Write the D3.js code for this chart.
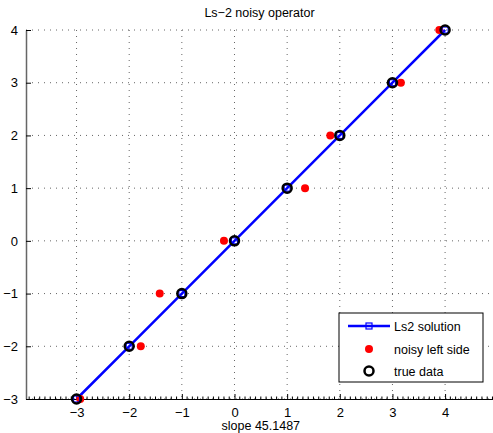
<!DOCTYPE html>
<html>
<head>
<meta charset="utf-8">
<script src="https://cdn.jsdelivr.net/npm/d3@7"></script>
<style>
  body { margin: 0; background: #fff; }
  text { font-family: "Liberation Sans", Arial, sans-serif; }
</style>
</head>
<body>
<svg id="chart" width="493" height="433"></svg>
<script>
/* DATA */
var trueX = [-3, -2, -1, 0, 1, 2, 3, 4];
var trueY = [-3, -2, -1, 0, 1, 2, 3, 4];
var lsX = [-3, -2, -1, 0, 1, 2, 3, 4];
var lsY = [-3, -2, -1, 0, 1, 2, 3, 4];
var noisyX = [-2.93, -1.78, -1.42, -0.2, 1.34, 1.82, 3.16, 3.89];
var noisyY = [-3, -2, -1, 0, 1, 2, 3, 4];
var xTicks = [-3, -2, -1, 0, 1, 2, 3, 4];
var yTicks = [-3, -2, -1, 0, 1, 2, 3, 4];
var titleText = "Ls\u22122 noisy operator";
var xLabelText = "slope 45.1487";
var legendNames = ["Ls2 solution", "noisy left side", "true data"];

var svg = d3.select("#chart");
var plotLeft = 26, plotRight = 493, plotTop = 30, plotBottom = 399;

var x = d3.scaleLinear().domain([-3.96, 4.91]).range([plotLeft, plotRight]);
var y = d3.scaleLinear().domain([-3, 4]).range([plotBottom, plotTop]);

var fmt = function(d){ return d < 0 ? "\u2212" + Math.abs(d) : "" + d; };

/* GRID */
var grid = svg.append("g");
grid.selectAll(".gx").data(xTicks).enter().append("line")
  .attr("x1", function(d){ return x(d); }).attr("x2", function(d){ return x(d); })
  .attr("y1", plotTop).attr("y2", plotBottom)
  .attr("stroke", "#666").attr("stroke-width", 1).attr("stroke-dasharray", "1,5");
grid.selectAll(".gy").data(yTicks).enter().append("line")
  .attr("x1", plotLeft).attr("x2", plotRight)
  .attr("y1", function(d){ return y(d); }).attr("y2", function(d){ return y(d); })
  .attr("stroke", "#666").attr("stroke-width", 1).attr("stroke-dasharray", "1,5");

/* X AXIS WITH INWARD TICKS */
var xAxis = svg.append("g").attr("transform", "translate(0," + plotBottom + ")")
  .call(d3.axisBottom(x).tickValues(xTicks).tickSizeInner(-5).tickSizeOuter(0).tickPadding(9).tickFormat(fmt));
xAxis.select(".domain").attr("stroke", "#000");
xAxis.selectAll("text").attr("font-size", 13).attr("fill", "#000");

/* MINOR TICKS ON X AXIS */
var minor = d3.range(-39, 50).map(function(i){ return i / 10; })
  .filter(function(d){ return Math.abs(d - Math.round(d)) > 0.01; });
svg.append("g").selectAll("line").data(minor).enter().append("line")
  .attr("x1", function(d){ return x(d); }).attr("x2", function(d){ return x(d); })
  .attr("y1", plotBottom).attr("y2", plotBottom - 2.5)
  .attr("stroke", "#000").attr("stroke-width", 1);

/* Y AXIS */
var yAxis = svg.append("g").attr("transform", "translate(" + plotLeft + ",0)")
  .call(d3.axisLeft(y).tickValues(yTicks).tickSizeInner(-5).tickSizeOuter(0).tickPadding(8).tickFormat(fmt));
yAxis.select(".domain").attr("stroke", "#666").attr("stroke-width", 1.5);
yAxis.selectAll(".tick line").attr("stroke", "#000");
yAxis.selectAll("text").attr("font-size", 13).attr("fill", "#000");

/* TITLE AND LABEL */
svg.append("text").attr("x", (plotLeft + plotRight) / 2).attr("y", 17)
  .attr("text-anchor", "middle").attr("font-size", 12.5).text(titleText);
svg.append("text").attr("x", x(0.5)).attr("y", 430)
  .attr("text-anchor", "middle").attr("font-size", 12.5).text(xLabelText);

/* LS2 LINE */
var lsData = lsX.map(function(d, i){ return [d, lsY[i]]; });
svg.append("path").datum(lsData)
  .attr("d", d3.line().x(function(d){ return x(d[0]); }).y(function(d){ return y(d[1]); }))
  .attr("fill", "none").attr("stroke", "#0000ff").attr("stroke-width", 2.5);

/* NOISY POINTS */
svg.append("g").selectAll("circle").data(noisyX).enter().append("circle")
  .attr("cx", function(d){ return x(d); })
  .attr("cy", function(d, i){ return y(noisyY[i]); })
  .attr("r", 4).attr("fill", "#ff0000");

/* LS2 SQUARE MARKERS */
svg.append("g").selectAll("rect").data(lsData).enter().append("rect")
  .attr("x", function(d){ return x(d[0]) - 3; })
  .attr("y", function(d){ return y(d[1]) - 3; })
  .attr("width", 6).attr("height", 6)
  .attr("fill", "none").attr("stroke", "#0000ff").attr("stroke-width", 1.2);

/* TRUE DATA CIRCLES */
svg.append("g").selectAll("circle").data(trueX).enter().append("circle")
  .attr("cx", function(d){ return x(d); })
  .attr("cy", function(d, i){ return y(trueY[i]); })
  .attr("r", 4.5).attr("fill", "none").attr("stroke", "#000").attr("stroke-width", 2.5);

/* LEGEND */
var lg = svg.append("g").attr("transform", "translate(339,313)");
lg.append("rect").attr("width", 144).attr("height", 69)
  .attr("fill", "#fff").attr("stroke", "#000").attr("stroke-width", 1);
var rows = [13, 36, 58];
lg.append("line").attr("x1", 9).attr("x2", 51).attr("y1", rows[0]).attr("y2", rows[0])
  .attr("stroke", "#0000ff").attr("stroke-width", 2.5);
lg.append("rect").attr("x", 27).attr("y", rows[0] - 3).attr("width", 6).attr("height", 6)
  .attr("fill", "none").attr("stroke", "#0000ff").attr("stroke-width", 1.2);
lg.append("circle").attr("cx", 30).attr("cy", rows[1]).attr("r", 4).attr("fill", "#ff0000");
lg.append("circle").attr("cx", 30).attr("cy", rows[2]).attr("r", 4.5)
  .attr("fill", "none").attr("stroke", "#000").attr("stroke-width", 2.5);
lg.selectAll("text.lab").data(legendNames).enter().append("text")
  .attr("x", 55).attr("y", function(d, i){ return rows[i] + 4.5; })
  .attr("font-size", 12.5).text(function(d){ return d; });
</script>
</body>
</html>
